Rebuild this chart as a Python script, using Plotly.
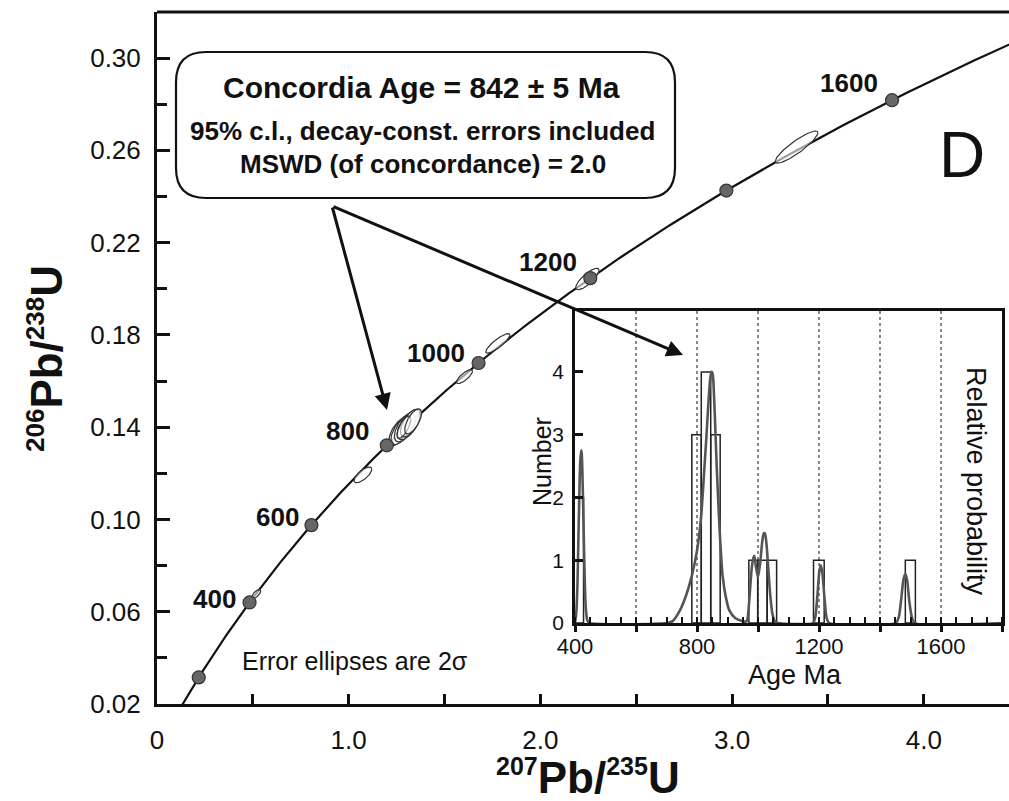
import numpy as np
import plotly.graph_objects as go

# ---------------- data ----------------
# decay constants (1/yr) used for the concordia reference curve
L238 = 1.55125e-10
L235 = 9.8485e-10

concordia_dot_ages = [200, 400, 600, 800, 1000, 1200, 1400, 1600]
labelled_ages = [400, 600, 800, 1000, 1200, 1600]
label_shift_x = [-12, -10, -16, -12, -11, -12]
label_shift_y = [3, 8, 14, 10, 16, 17]

# error ellipses (2 sigma): centre 207/235, centre 206/238, sigma x, sigma y, rho
ell_x = [0.517, 1.074, 1.262, 1.280, 1.294, 1.300, 1.312, 1.322, 1.288, 1.336, 1.604, 1.778, 2.245, 3.336]
ell_y = [0.0676, 0.1193, 0.1380, 0.1390, 0.1398, 0.1404, 0.1410, 0.1418, 0.1400, 0.1425, 0.1619, 0.1763, 0.2042, 0.2614]
ell_sx = [0.012, 0.0232, 0.026, 0.030, 0.028, 0.022, 0.030, 0.026, 0.018, 0.022, 0.0208, 0.0315, 0.0304, 0.0556]
ell_sy = [0.0010, 0.0017, 0.0030, 0.0033, 0.0031, 0.0026, 0.0032, 0.0030, 0.0024, 0.0027, 0.00151, 0.00212, 0.00232, 0.00348]
ell_rho = [0.70, 0.71, 0.62, 0.66, 0.60, 0.68, 0.64, 0.62, 0.70, 0.66, 0.78, 0.86, 0.80, 0.89]

# inset histogram (Age Ma)
bin_left = [397, 783, 814, 845, 970, 999, 1030, 1182, 1483]
bin_right = [428, 814, 845, 876, 999, 1030, 1061, 1217, 1516]
bin_count = [2, 3, 4, 3, 1, 1, 1, 1, 1]

# inset relative-probability curve
pdf_age = [400, 404, 408, 411, 414, 417, 420, 422, 424, 427, 430, 433, 436, 440, 446,
           700, 720, 744, 765, 783, 800, 814, 822, 830, 838, 844, 848, 852, 856, 860, 865, 874,
           884, 895, 906, 925, 949, 960,
           965, 972, 978, 983, 988, 993, 1000, 1007, 1014, 1019, 1023, 1028, 1034, 1040, 1047, 1055, 1065,
           1180, 1188, 1195, 1201, 1206, 1211, 1218, 1225, 1233,
           1452, 1462, 1470, 1477, 1483, 1489, 1496, 1504, 1514, 1800]
pdf_val = [0.0, 0.15, 0.6, 1.3, 2.0, 2.55, 2.75, 2.7, 2.45, 1.8, 1.1, 0.5, 0.2, 0.05, 0.0,
           0.0, 0.03, 0.2, 0.45, 0.75, 1.15, 1.72, 2.3, 2.9, 3.55, 3.92, 4.0, 3.95, 3.6, 3.1, 2.45, 1.5,
           0.75, 0.4, 0.2, 0.08, 0.03, 0.02,
           0.05, 0.4, 0.8, 1.0, 1.07, 0.9, 0.73, 0.95, 1.3, 1.43, 1.42, 1.25, 0.85, 0.45, 0.15, 0.03, 0.0,
           0.0, 0.1, 0.45, 0.82, 0.92, 0.8, 0.4, 0.08, 0.0,
           0.0, 0.1, 0.4, 0.7, 0.78, 0.68, 0.35, 0.1, 0.0, 0.0]

main_xticks = [0, 1, 2, 3, 4]
main_xticktext = ["0", "1.0", "2.0", "3.0", "4.0"]
inset_xticks = [400, 600, 800, 1000, 1200, 1400, 1600, 1800]
inset_xticktext = ["400", "", "800", "", "1200", "", "1600", ""]

# ---------------- layout geometry ----------------
W, H = 1009, 801
ML, MR, MT, MB = 157, 0, 12, 97
PW, PH = W - ML - MR, H - MT - MB
XMAX = PW / 191.7
YMIN, YMAX = 0.02, 0.02 + PH / 2307.0


def px2paper(px, py):
    return (px - ML) / PW, (H - MB - py) / PH


def px2data(px, py):
    return (px - ML) / 191.7, YMIN + (H - MB - py) / 2307.0


def concordia(age_ma):
    t = np.asarray(age_ma, dtype=float) * 1e6
    return np.expm1(L235 * t), np.expm1(L238 * t)


FONT = "Liberation Sans, Arial, Helvetica, sans-serif"
fig = go.Figure()

# concordia curve
ages_curve = np.arange(0, 1850, 5)
cx, cy = concordia(ages_curve)
fig.add_trace(go.Scatter(x=cx, y=cy, mode="lines", line=dict(color="#111", width=2.2),
                         hoverinfo="skip", showlegend=False, xaxis="x", yaxis="y"))

# ellipses
tt = np.linspace(0, 2 * np.pi, 80)
for x0, y0, sx, sy, r in zip(ell_x, ell_y, ell_sx, ell_sy, ell_rho):
    ex = x0 + 2 * sx * np.cos(tt)
    ey = y0 + 2 * sy * (r * np.cos(tt) + np.sqrt(1 - r * r) * np.sin(tt))
    fig.add_trace(go.Scatter(x=ex, y=ey, mode="lines", fill="toself", fillcolor="rgba(255,255,255,0.6)",
                             line=dict(color="#333", width=1.2), hoverinfo="skip", showlegend=False,
                             xaxis="x", yaxis="y"))

# concordia age dots
dx, dy = concordia(concordia_dot_ages)
fig.add_trace(go.Scatter(x=dx, y=dy, mode="markers",
                         marker=dict(size=13, color="#666", line=dict(color="#333", width=1.2)),
                         hoverinfo="skip", showlegend=False, xaxis="x", yaxis="y"))

annotations = []
lx, ly = concordia(labelled_ages)
for a, xx, yy, sx_, sy_ in zip(labelled_ages, lx, ly, label_shift_x, label_shift_y):
    annotations.append(dict(x=xx, y=yy, xref="x", yref="y", text="<b>%d</b>" % a, showarrow=False,
                            xanchor="right", yanchor="middle", xshift=sx_, yshift=sy_,
                            font=dict(family=FONT, size=26, color="#111")))

# inset histogram
centers = [(l + r) / 2 for l, r in zip(bin_left, bin_right)]
widths = [r - l for l, r in zip(bin_left, bin_right)]
fig.add_trace(go.Bar(x=centers, y=bin_count, width=widths, base=0,
                     marker=dict(color="rgba(255,255,255,0)", line=dict(color="#222", width=1.5)),
                     hoverinfo="skip", showlegend=False, xaxis="x2", yaxis="y2"))
fig.add_trace(go.Scatter(x=pdf_age, y=pdf_val, mode="lines", line=dict(color="#555", width=2.6, shape="spline", smoothing=0.6),
                         hoverinfo="skip", showlegend=False, xaxis="x2", yaxis="y2"))

# ---------------- text ----------------
def add_text(px, py, text, size, bold=False, anchor="center", angle=0):
    xp, yp = px2paper(px, py)
    annotations.append(dict(x=xp, y=yp, xref="paper", yref="paper", text=("<b>%s</b>" % text) if bold else text,
                            showarrow=False, xanchor=anchor, yanchor="middle", textangle=angle,
                            font=dict(family=FONT, size=size, color="#111")))

add_text(421, 87, "Concordia Age = 842 ± 5 Ma", 30, bold=True)
add_text(422, 131, "95% c.l., decay-const. errors included", 26, bold=True)
add_text(423, 164, "MSWD (of concordance) = 2.0", 26, bold=True)
add_text(240, 661, "Error ellipses are 2σ", 25, anchor="left")
add_text(962, 155, "D", 64)
add_text(588, 777, '<sup><span style="font-size:25px">207</span></sup>Pb/<sup><span style="font-size:25px">235</span></sup>U', 44, bold=True)
add_text(46, 359, '<sup><span style="font-size:26px">206</span></sup>Pb/<sup><span style="font-size:26px">238</span></sup>U', 44, bold=True, angle=-90)
add_text(795, 675, "Age Ma", 27)
add_text(542, 462, "Number", 25, angle=-90)
add_text(976, 481, "Relative probability", 27, angle=90)

# arrows
tail = px2data(332, 206)
for tip_px in [(387, 410), (683, 355)]:
    tip = px2data(*tip_px)
    annotations.append(dict(x=tip[0], y=tip[1], ax=tail[0], ay=tail[1], xref="x", yref="y", axref="x", ayref="y",
                            showarrow=True, arrowhead=2, arrowsize=1.1, arrowwidth=3, arrowcolor="#111", text=""))

# rounded box
bx0, by0 = px2data(176, 198)
bx1, by1 = px2data(675, 52)
rx = 30 / 191.7
ry = 30 / 2307.0
box_path = ("M {a},{b} L {c},{b} Q {x1},{b} {x1},{d} L {x1},{e} Q {x1},{y1} {c},{y1} "
            "L {a},{y1} Q {x0},{y1} {x0},{e} L {x0},{d} Q {x0},{b} {a},{b} Z").format(
    a=bx0 + rx, c=bx1 - rx, b=by0, d=by0 + ry, e=by1 - ry, x0=bx0, x1=bx1, y1=by1)

shapes = [
    dict(type="path", path=box_path, xref="x", yref="y", line=dict(color="#111", width=2.2),
         fillcolor="white", layer="above"),
    dict(type="line", xref="paper", yref="paper", x0=0, x1=1, y0=1, y1=1, line=dict(color="#111", width=3)),
]

ix0, iy0 = px2paper(575, 623)
ix1, iy1 = px2paper(1002, 311)

fig.update_layout(
    width=W, height=H, margin=dict(l=ML, r=MR, t=MT, b=MB, pad=0),
    paper_bgcolor="white", plot_bgcolor="white",
    font=dict(family=FONT, color="#111"),
    showlegend=False,
    annotations=annotations, shapes=shapes,
    xaxis=dict(range=[0, XMAX], domain=[0, 1], anchor="y", showgrid=False, zeroline=False,
               showline=True, linewidth=3, linecolor="#111",
               tickvals=main_xticks, ticktext=main_xticktext, ticks="inside", ticklen=10, tickwidth=3,
               tickcolor="#111", tickfont=dict(size=26, family=FONT, color="#111"), ticklabelstandoff=11,
               minor=dict(tick0=0, dtick=0.5, ticks="inside", ticklen=10, tickwidth=3, tickcolor="#111", showgrid=False)),
    yaxis=dict(range=[YMIN, YMAX], domain=[0, 1], anchor="x", showgrid=False, zeroline=False,
               showline=True, linewidth=3, linecolor="#111",
               tick0=0.02, dtick=0.04, tickformat=".2f", ticks="inside", ticklen=13, tickwidth=3,
               tickcolor="#111", tickfont=dict(size=26, family=FONT, color="#111"), ticklabelstandoff=8,
               minor=dict(tick0=0.0, dtick=0.02, ticks="inside", ticklen=10, tickwidth=3, tickcolor="#111", showgrid=False)),
    xaxis2=dict(range=[400, 1800], domain=[ix0, ix1], anchor="y2", showgrid=True, gridcolor="#888",
                griddash="dot", gridwidth=1.5, zeroline=False, showline=True, mirror=True, linewidth=2.5,
                linecolor="#111", tickvals=inset_xticks, ticktext=inset_xticktext, ticks="outside",
                ticklen=6, tickwidth=2.5, tickcolor="#111", tickfont=dict(size=22, family=FONT, color="#111"),
                ticklabelstandoff=-4,
                minor=dict(tick0=400, dtick=50, ticks="inside", ticklen=6, tickwidth=2, tickcolor="#111", showgrid=False)),
    yaxis2=dict(range=[0, 4.97], domain=[iy0, iy1], anchor="x2", showgrid=False, zeroline=False,
                showline=True, mirror=True, linewidth=2.5, linecolor="#111",
                tickvals=[0, 1, 2, 3, 4], ticks="inside", ticklen=8, tickwidth=2.5, tickcolor="#111",
                tickfont=dict(size=21, family=FONT, color="#111"), ticklabelstandoff=4),
)

fig.write_html("out.html", config={"displayModeBar": False},
               post_script="document.body.style.margin='0';document.body.style.overflow='hidden';")
